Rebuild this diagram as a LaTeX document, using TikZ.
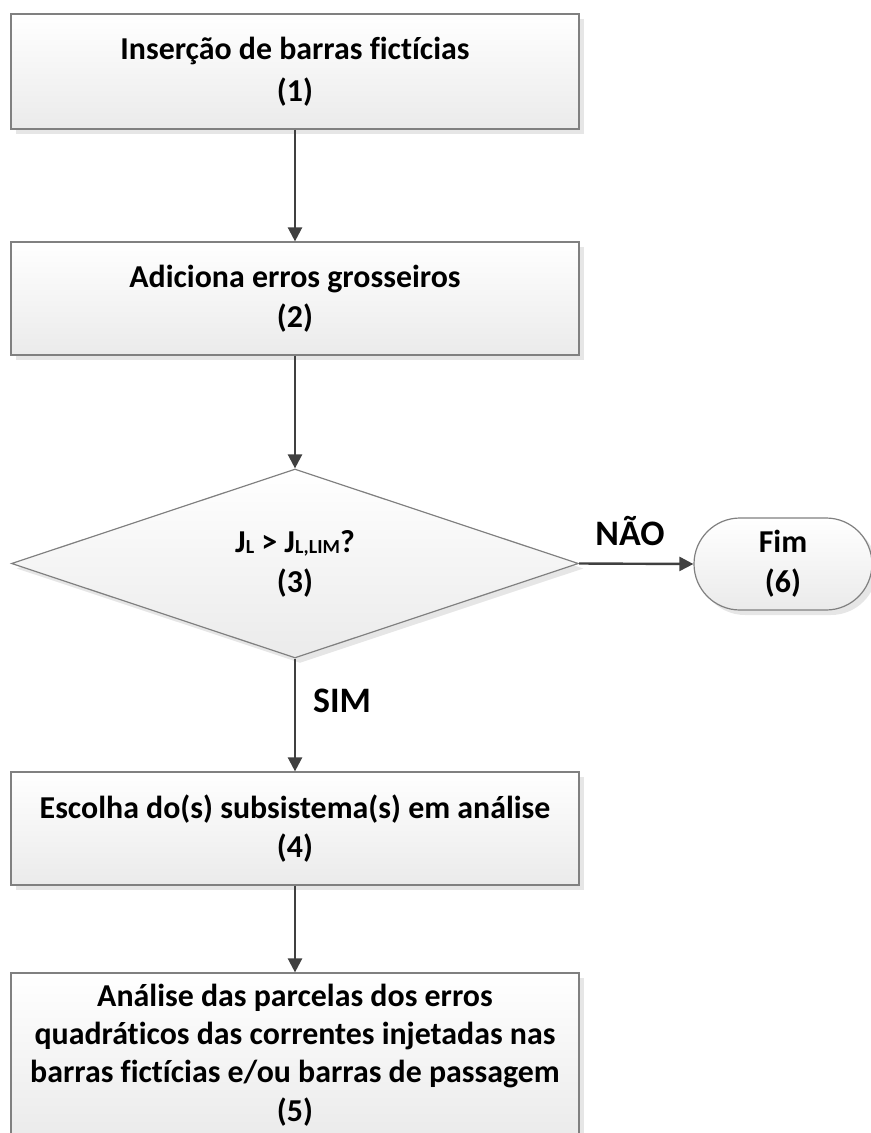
\documentclass[tikz,border=0pt]{standalone}
\usepackage{fontspec}
\setmainfont{Carlito}[Ligatures=NoCommon]
\usetikzlibrary{shapes.geometric,shapes.misc,arrows.meta,shadows}

\definecolor{edgegray}{HTML}{808080}
\definecolor{flowgray}{HTML}{404040}
\definecolor{shadegray}{HTML}{E6E6E6}

\begin{document}
\begin{tikzpicture}[x=1bp,y=-1bp,
  every node/.style={font=\bfseries\fontsize{32}{40}\selectfont, align=center, inner sep=0pt},
  boxshade/.style={draw=edgegray, line width=1.2bp, top color=white, bottom color=black!8,
    general shadow={fill=shadegray, shadow xshift=5bp, shadow yshift=-5bp}},
  procbox/.style={boxshade, rectangle, minimum width=568bp},
  decision/.style={boxshade, diamond, aspect=3, minimum width=567bp, minimum height=189bp},
  terminal/.style={boxshade, rounded rectangle, minimum width=178bp, minimum height=92bp},
  flow/.style={draw=flowgray, line width=2.4bp, -{Triangle[length=14bp,width=14bp]}},
  flowlabel/.style={font=\bfseries\fontsize{36}{40}\selectfont, anchor=base}
]
\useasboundingbox (0,0) rectangle (871,1133);

% process steps
\node[procbox, minimum height=115bp] (s1) at (295,71.5)
  {Inserção de barras fictícias\\[2bp](1)};
\node[procbox, minimum height=113bp] (s2) at (295,298.5)
  {Adiciona erros grosseiros\\(2)};
\node[decision] (s3) at (295,563.5)
  {J{\fontsize{20}{20}\selectfont\raisebox{-1bp}{L}} >
   J{\fontsize{20}{20}\selectfont\raisebox{-1bp}{L,LIM}}?\\(3)};
\node[terminal] (s6) at (783,564) {Fim\\(6)};
\node[procbox, minimum height=113bp] (s4) at (295,828.5)
  {Escolha do(s) subsistema(s) em análise\\(4)};
\node[procbox, minimum height=164bp, font=\bfseries\fontsize{32}{38.5}\selectfont] (s5) at (295,1055)
  {Análise das parcelas dos erros\\quadráticos das correntes injetadas nas\\barras fictícias e/ou barras de passagem\\(5)};

% connectors
\draw[flow] (s1.south) -- (s2.north);
\draw[flow] (s2.south) -- (s3.north);
\draw[flow] (s3.east) -- (s6.west);
\draw[flow] (s3.south) -- (s4.north);
\draw[flow] (s4.south) -- (s5.north);

% branch labels
\node[flowlabel] (nao) at (630,545) {NÃO};
\node[flowlabel] (sim) at (342,712) {SIM};
\end{tikzpicture}
\end{document}
